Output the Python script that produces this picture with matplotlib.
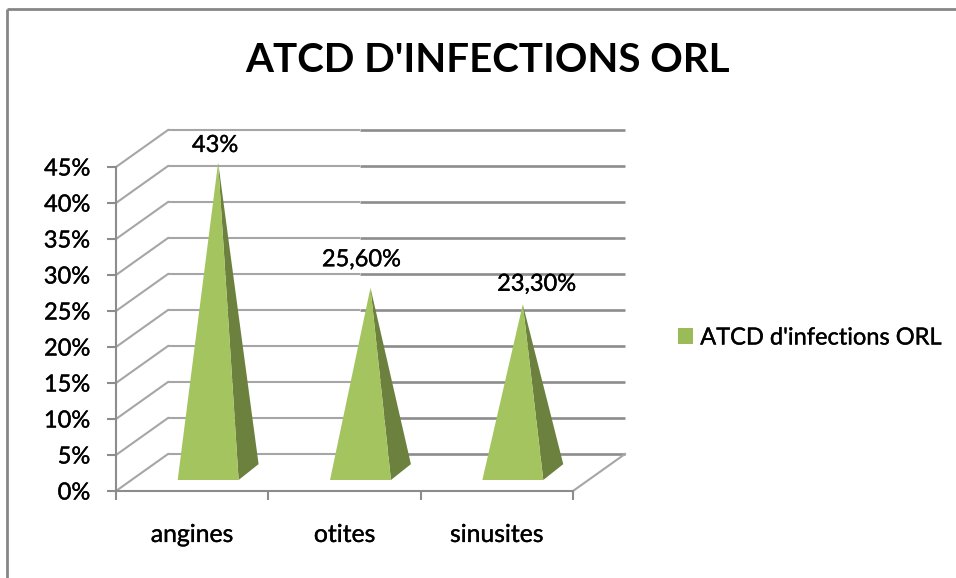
import matplotlib
matplotlib.use("Agg")
import matplotlib.pyplot as plt
import matplotlib.patheffects as pe
from matplotlib.lines import Line2D
from matplotlib.patches import Patch, Polygon

# ---- data ----
categories = ["angines", "otites", "sinusites"]
values = [43, 25.6, 23.3]
value_labels = ["43%", "25,60%", "23,30%"]
y_ticks = [0, 5, 10, 15, 20, 25, 30, 35, 40, 45]
title = "ATCD D'INFECTIONS ORL"
series_name = "ATCD d'infections ORL"

# ---- style ----
W, H = 956, 578
FONT = "Lato"
LIGHT = "#A3C45E"
DARK = "#6C813D"
LEGEND = "#9BBB59"
GRID = "#8C8C8C"
GRID_L = "#A6A6A6"
FRAME = "#868686"
FS = 17
DEPTH_X, DEPTH_Y = 0.3414, 5.14      # wall depth in data units
BASE_DX, BASE_Y = 0.105, 1.53        # pyramid front-edge placement
HALF_W = 0.2
SIDE_X, SIDE_Y = 0.131, 2.2          # pyramid base depth
SPLIT = 1.10                         # where back gridlines turn darker
LABEL_OFFSETS = [(-3, 17), (-9, 28), (14, 20)]  # px from apex
HEAVY = [pe.withStroke(linewidth=0.25, foreground="black")]

plt.rcParams["font.family"] = [FONT, "DejaVu Sans"]
fig = plt.figure(figsize=(W / 100, H / 100), dpi=100, facecolor="white")
ax = fig.add_axes([116 / W, 1 - 491 / H, (573 - 116) / W, (491 - 167) / H])
ax.set_xlim(-0.5, 2.5)
ax.set_ylim(0, 45)
ax.patch.set_visible(False)

# outer chart frame: left and top only
for xs, ys in (((7, 7), (9, H)), ((7, W), (9, 9))):
    fig.add_artist(Line2D([x / W for x in xs], [1 - y / H for y in ys],
                          color=FRAME, lw=2.0, solid_capstyle="butt"))

# walls, gridlines and floor
for v in y_ticks:
    ax.plot([-0.5, -0.5 + DEPTH_X], [v, v + DEPTH_Y], color=GRID_L, lw=1.5,
            clip_on=False, zorder=1)
    ax.plot([-0.5 + DEPTH_X, SPLIT], [v + DEPTH_Y] * 2, color=GRID_L, lw=1.5,
            clip_on=False, zorder=1, solid_capstyle="butt")
    ax.plot([SPLIT, 2.5 + DEPTH_X], [v + DEPTH_Y] * 2, color=GRID, lw=1.9,
            clip_on=False, zorder=1, solid_capstyle="butt")
ax.plot([2.5, 2.5 + DEPTH_X], [0, DEPTH_Y], color=GRID_L, lw=1.5,
        clip_on=False, zorder=1)

# pyramids
xpos = range(len(categories))
for x, v in zip(xpos, values):
    left = x + BASE_DX - HALF_W
    right = x + BASE_DX + HALF_W
    apex = (x + BASE_DX + SIDE_X / 2, BASE_Y + SIDE_Y / 2 + v)
    ax.add_patch(Polygon([(right, BASE_Y), (right + SIDE_X, BASE_Y + SIDE_Y), apex],
                         closed=True, fc=DARK, ec="none", clip_on=False, zorder=3))
    ax.add_patch(Polygon([(left, BASE_Y), (right, BASE_Y), apex],
                         closed=True, fc=LIGHT, ec="none", clip_on=False, zorder=4))

# data labels
for x, v, text, off in zip(xpos, values, value_labels, LABEL_OFFSETS):
    ax.annotate(text, (x + BASE_DX + SIDE_X / 2, BASE_Y + SIDE_Y / 2 + v),
                xytext=(off[0] * 0.72, off[1] * 0.72), textcoords="offset points",
                ha="center", va="center", fontsize=FS, color="black", zorder=5,
                annotation_clip=False)

# axes
for side in ("top", "right"):
    ax.spines[side].set_visible(False)
for side in ("left", "bottom"):
    ax.spines[side].set_color(GRID)
    ax.spines[side].set_linewidth(1.5)
ax.set_yticks(y_ticks)
ax.set_yticklabels([f"{v}%" for v in y_ticks], fontsize=FS)
ax.set_xticks([-0.5, 0.5, 1.5, 2.5])
ax.set_xticklabels([])
ax.set_xticks(list(xpos), labels=categories, minor=True, fontsize=17.8)
ax.tick_params(axis="y", length=6.5, width=1.5, color=GRID, pad=12)
ax.tick_params(axis="x", which="major", length=6.5, width=1.5, color=GRID)
ax.tick_params(axis="x", which="minor", length=0, pad=23)

fig.text(488 / W, 1 - 60 / H, title, fontsize=29, fontweight="bold",
         ha="center", va="center", color="black")

leg = ax.legend(handles=[Patch(fc=LEGEND, ec="none", label=series_name)],
                loc="center left", bbox_to_anchor=(678 / W, 1 - 338 / H),
                bbox_transform=fig.transFigure, frameon=False, fontsize=FS,
                handlelength=0.64, handleheight=0.64, handletextpad=0.3,
                borderpad=0, borderaxespad=0)

# Calibri-like slightly heavy body text
texts = list(ax.get_yticklabels()) + list(ax.get_xticklabels(minor=True)) + list(leg.get_texts())
texts += [c for c in ax.texts]
for t in texts:
    t.set_path_effects(HEAVY)

fig.savefig("out.png", dpi=100, facecolor="white")
